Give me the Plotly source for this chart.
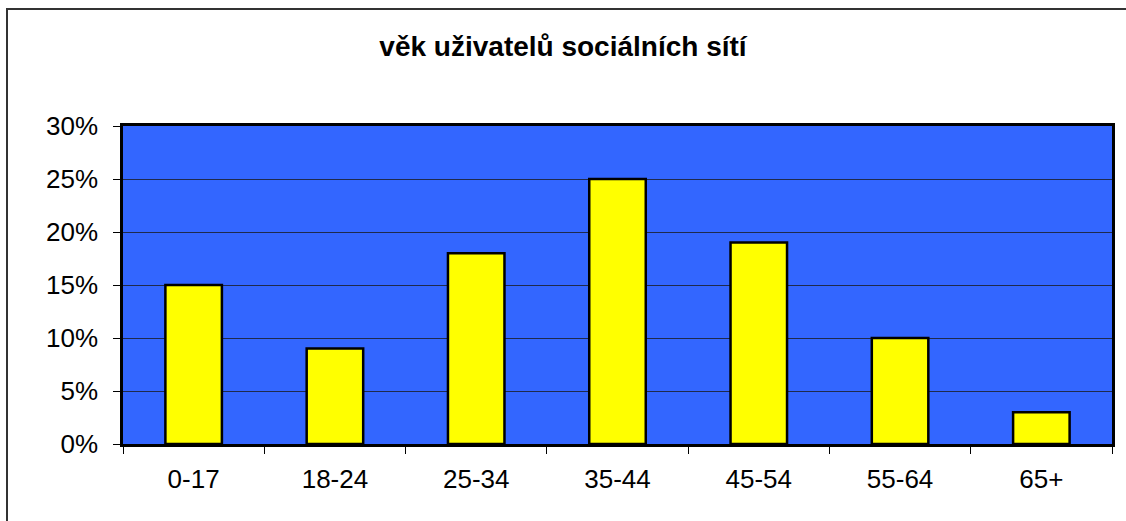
import plotly.graph_objects as go

categories = ["0-17", "18-24", "25-34", "35-44", "45-54", "55-64", "65+"]
values = [0.15, 0.09, 0.18, 0.25, 0.19, 0.10, 0.03]
y_ticks = [0, 0.05, 0.10, 0.15, 0.20, 0.25, 0.30]
y_tick_labels = ["0%", "5%", "10%", "15%", "20%", "25%", "30%"]
title_text = "věk uživatelů sociálních sítí"

W, H = 1126, 521
L, R, T, B = 123, 14, 126, 77
pw, ph = W - L - R, H - T - B

fig = go.Figure(go.Bar(
    x=categories, y=values,
    marker=dict(color="#FFFF00", line=dict(color="black", width=2.5)),
    width=0.4,
))

font = "Liberation Sans, Arial, sans-serif"
fig.update_layout(
    width=W, height=H,
    margin=dict(l=L, r=R, t=T, b=B),
    paper_bgcolor="white",
    plot_bgcolor="#3366FF",
    showlegend=False,
    title=dict(text="<b>" + title_text + "</b>", x=0.5, xanchor="center",
               y=1 - 46 / H, yanchor="middle",
               font=dict(family=font, size=28, color="black")),
    font=dict(family=font, size=26, color="black"),
)
fig.update_xaxes(
    type="category", tickson="boundaries", ticks="outside", ticklen=7,
    tickcolor="black", tickwidth=1, ticklabelstandoff=10,
    showline=True, linecolor="black", linewidth=2.5, mirror=True,
    showgrid=False, tickfont=dict(size=26), fixedrange=True,
)
fig.update_yaxes(
    range=[0, 0.30], tickvals=y_ticks, ticktext=y_tick_labels,
    ticks="outside", ticklen=7, tickcolor="black", tickwidth=1,
    ticklabelstandoff=10,
    showline=True, linecolor="black", linewidth=2.5, mirror=True,
    showgrid=True, gridcolor="#1f2a4d", gridwidth=1,
    zeroline=False, tickfont=dict(size=26),
)

# outer chart border (left/top visible)
x0 = (7 - L) / pw
x1 = (W + 20 - L) / pw
y1 = (H - B - 9) / ph
y0 = (H - B - (H + 20)) / ph
fig.add_shape(type="rect", xref="paper", yref="paper", x0=x0, x1=x1, y0=y0, y1=y1,
              line=dict(color="#333333", width=2), fillcolor="rgba(0,0,0,0)", layer="below")

fig.write_html("out.html",
               config={"displayModeBar": False},
               post_script="document.body.style.margin='0';document.body.style.padding='0';document.body.style.overflow='hidden';")
